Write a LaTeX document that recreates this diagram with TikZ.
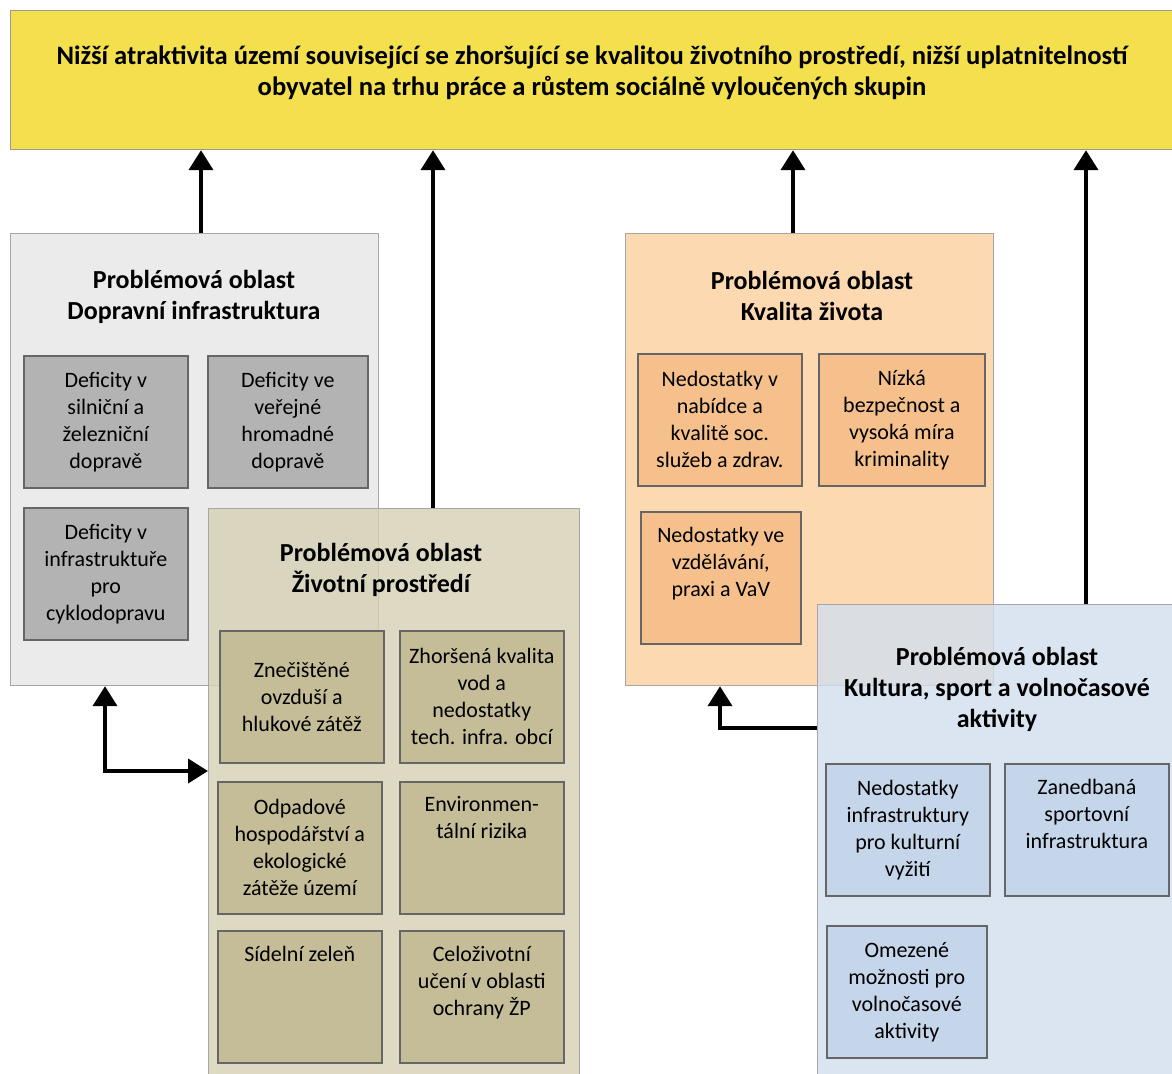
\documentclass[tikz,border=0pt]{standalone}
\usepackage{fontspec}
\setmainfont{Carlito}
\usetikzlibrary{arrows.meta}

\definecolor{topyellow}{HTML}{F4E04D}
\definecolor{doprfill}{HTML}{EBEBEB}
\definecolor{doprsub}{HTML}{B3B3B3}
\definecolor{zivfill}{HTML}{D5D0B4}
\definecolor{zivsub}{HTML}{C4BD97}
\definecolor{kvalfill}{HTML}{FCD9B0}
\definecolor{kvalsub}{HTML}{F5C08C}
\definecolor{kultfill}{HTML}{D2DEEE}
\definecolor{kultsub}{HTML}{C5D5EA}

\tikzset{
  area/.style={draw=black!35, line width=0.6pt, anchor=north west, inner sep=0pt},
  sub/.style={draw=black!60, line width=0.8pt, anchor=north west, minimum width=82pt,
    minimum height=66pt, inner sep=2pt, align=center, font=\fontsize{11}{13.5}\selectfont},
  subtop/.style={sub, inner ysep=7.5pt},
  head/.style={align=center, font=\fontsize{13}{15.5}\selectfont\bfseries},
  uparr/.style={line width=2pt, -{Triangle[length=10pt,width=12pt]}},
}

\begin{document}
\begin{tikzpicture}[x=0.5pt, y=-0.5pt]
    \useasboundingbox (0,0) rectangle (1172,1074);
    \clip (0,0) rectangle (1172,1074);

    % top
    \node[area, fill=topyellow, draw=black!40, minimum width=600pt, minimum height=69.5pt] (top) at (10,10) {};
    \node[head, font=\fontsize{13.3}{15.5}\selectfont\bfseries] (topText) at (592,73) {Nižší atraktivita území související se zhoršující se kvalitou životního prostředí, nižší uplatnitelností\\obyvatel na trhu práce a růstem sociálně vyloučených skupin};

    % Dopravni infrastruktura
    \node[area, fill=doprfill, minimum width=184pt, minimum height=226pt] (dopr) at (10,233) {};
    \node[head] (doprTitle) at (194,297) {Problémová oblast\\Dopravní infrastruktura};
    \node[sub, fill=doprsub] (dopr1) at (23,355) {Deficity v\\silniční a\\železniční\\dopravě};
    \node[sub, fill=doprsub, minimum width=80pt] (dopr2) at (207,355) {Deficity ve\\veřejné\\hromadné\\dopravě};
    \node[sub, fill=doprsub] (dopr3) at (23,507) {Deficity v\\infrastruktuře\\pro\\cyklodopravu};

    % Zivotni prostredi
    \node[area, fill=zivfill, fill opacity=0.8, minimum width=185.5pt, minimum height=291pt] (ziv) at (208,508) {};
    \node[head] (zivTitle) at (381,570) {Problémová oblast\\Životní prostředí};
    \node[sub, fill=zivsub] (ziv1) at (219,630) {Znečištěné\\ovzduší a\\hlukové zátěž};
    \node[sub, fill=zivsub] (ziv2) at (399,630) {Zhoršená kvalita\\vod a\\nedostatky\\tech. infra. obcí};
    \node[sub, fill=zivsub] (ziv3) at (217,781) {Odpadové\\hospodářství a\\ekologické\\zátěže území};
    \node[subtop, fill=zivsub] (ziv4) at (399,781) {\parbox[c][51pt][t]{78pt}{\centering Environmen-\\tální rizika}};
    \node[subtop, fill=zivsub] (ziv5) at (217,930) {\parbox[c][51pt][t]{78pt}{\centering Sídelní zeleň}};
    \node[subtop, fill=zivsub] (ziv6) at (399,930) {\parbox[c][51pt][t]{78pt}{\centering Celoživotní\\učení v oblasti\\ochrany ŽP}};

    % Kvalita zivota
    \node[area, fill=kvalfill, minimum width=184pt, minimum height=226pt] (kval) at (625,233) {};
    \node[head] (kvalTitle) at (812,296) {Problémová oblast\\Kvalita života};
    \node[sub, fill=kvalsub] (kval1) at (637,353) {Nedostatky v\\nabídce a\\kvalitě soc.\\služeb a zdrav.};
    \node[sub, fill=kvalsub, minimum width=83pt] (kval2) at (818,353) {Nízká\\bezpečnost a\\vysoká míra\\kriminality};
    \node[subtop, fill=kvalsub, minimum width=80pt] (kval3) at (640,511) {\parbox[c][51pt][t]{76pt}{\centering Nedostatky ve\\vzdělávání,\\praxi a VaV}};

    % Kultura, sport
    \node[area, fill=kultfill, fill opacity=0.8, minimum width=186.5pt, minimum height=243pt] (kult) at (817,604) {};
    \node[head] (kultTitle) at (997,689) {Problémová oblast\\Kultura, sport a volnočasové\\aktivity};
    \node[sub, fill=kultsub] (kult1) at (825,763) {Nedostatky\\infrastruktury\\pro kulturní\\vyžití};
    \node[subtop, fill=kultsub] (kult2) at (1004,763) {\parbox[c][51pt][t]{78pt}{\centering Zanedbaná\\sportovní\\infrastruktura}};
    \node[sub, fill=kultsub, minimum width=80pt] (kult3) at (826,925) {Omezené\\možnosti pro\\volnočasové\\aktivity};

    % arrows
    \draw[uparr] (dopr.north -| 201,0) -- (top.south -| 201,0);
    \draw[uparr] (ziv.north -| 433,0) -- (top.south -| 433,0);
    \draw[uparr] (kval.north -| 793,0) -- (top.south -| 793,0);
    \draw[uparr] (kult.north -| 1086,0) -- (top.south -| 1086,0);
    \draw[line width=2pt, {Triangle[length=10pt,width=12pt]}-{Triangle[length=10pt,width=12pt]}] (dopr.south -| 105,0) |- (ziv.west |- 0,771);
    \draw[uparr] (kult.west |- 0,728) -| (kval.south -| 720,0);
\end{tikzpicture}
\end{document}
